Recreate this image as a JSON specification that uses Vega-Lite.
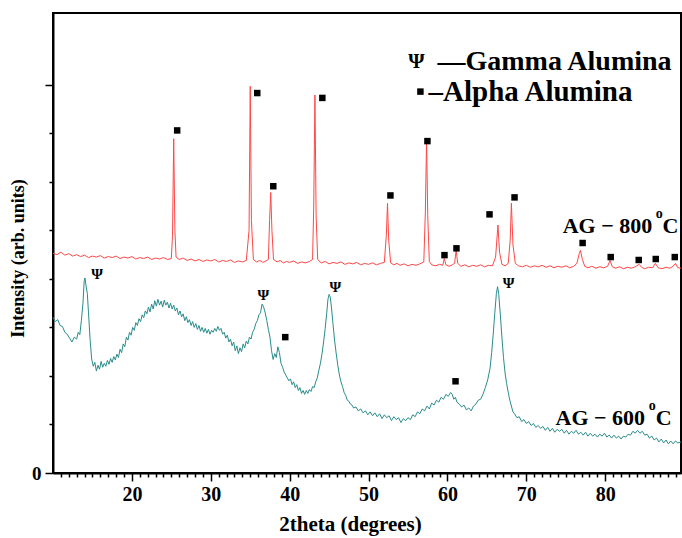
{
  "$schema": "https://vega.github.io/schema/vega-lite/v6.json",
  "width": 628,
  "height": 460,
  "autosize": {"type": "none"},
  "padding": {"left": 53, "top": 13, "right": 1, "bottom": 65},
  "background": "white",
  "config": {
    "view": {"stroke": "black", "strokeWidth": 2},
    "font": "Liberation Serif",
    "axis": {"grid": false, "tickColor": "black", "tickWidth": 1.5, "domainColor": "black", "domainWidth": 2, "labelColor": "black", "labelFont": "Liberation Serif", "labelFontSize": 18, "labelFontWeight": "bold", "titleColor": "black", "titleFont": "Liberation Serif", "titleFontSize": 18, "titleFontWeight": "bold", "labelOverlap": false, "labelFlush": false, "labelBound": false}
  },
  "resolve": {"axis": {"x": "independent", "y": "independent"}},
  "datasets": {
    "red": [
      {"x":10.0,"y":4.53},{"x":10.5,"y":4.50},{"x":11.0,"y":4.55},{"x":11.5,"y":4.49},{"x":12.0,"y":4.52},{"x":12.5,"y":4.47},{"x":13.0,"y":4.50},{"x":13.5,"y":4.46},{"x":14.0,"y":4.49},{"x":14.5,"y":4.44},{"x":15.0,"y":4.47},{"x":15.5,"y":4.45},{"x":16.0,"y":4.48},{"x":16.5,"y":4.43},{"x":17.0,"y":4.46},{"x":17.5,"y":4.44},{"x":18.0,"y":4.47},{"x":18.5,"y":4.42},{"x":19.0,"y":4.45},{"x":19.5,"y":4.43},{"x":20.0,"y":4.46},{"x":20.5,"y":4.41},{"x":21.0,"y":4.44},{"x":21.5,"y":4.42},{"x":22.0,"y":4.45},{"x":22.5,"y":4.40},{"x":23.0,"y":4.43},{"x":23.5,"y":4.41},{"x":24.0,"y":4.44},{"x":24.5,"y":4.40},{"x":25.0,"y":4.42},{"x":25.15,"y":4.9},{"x":25.3,"y":6.89},{"x":25.45,"y":5.0},{"x":25.6,"y":4.45},{"x":26.0,"y":4.40},{"x":26.5,"y":4.43},{"x":27.0,"y":4.38},{"x":27.5,"y":4.41},{"x":28.0,"y":4.37},{"x":28.5,"y":4.40},{"x":29.0,"y":4.36},{"x":29.5,"y":4.39},{"x":30.0,"y":4.37},{"x":30.5,"y":4.40},{"x":31.0,"y":4.35},{"x":31.5,"y":4.38},{"x":32.0,"y":4.36},{"x":32.5,"y":4.39},{"x":33.0,"y":4.34},{"x":33.5,"y":4.37},{"x":34.0,"y":4.35},{"x":34.5,"y":4.38},{"x":34.85,"y":5.0},{"x":35.0,"y":7.97},{"x":35.15,"y":5.2},{"x":35.4,"y":4.40},{"x":35.8,"y":4.35},{"x":36.2,"y":4.38},{"x":36.6,"y":4.34},{"x":37.0,"y":4.37},{"x":37.3,"y":4.40},{"x":37.45,"y":5.2},{"x":37.6,"y":5.78},{"x":37.75,"y":5.0},{"x":37.95,"y":4.40},{"x":38.4,"y":4.35},{"x":38.8,"y":4.38},{"x":39.2,"y":4.33},{"x":39.6,"y":4.36},{"x":40.0,"y":4.34},{"x":40.5,"y":4.37},{"x":41.0,"y":4.32},{"x":41.5,"y":4.35},{"x":42.0,"y":4.33},{"x":42.5,"y":4.36},{"x":42.9,"y":4.40},{"x":43.05,"y":5.5},{"x":43.2,"y":7.79},{"x":43.35,"y":5.3},{"x":43.55,"y":4.40},{"x":44.0,"y":4.33},{"x":44.5,"y":4.36},{"x":45.0,"y":4.31},{"x":45.5,"y":4.34},{"x":46.0,"y":4.32},{"x":46.5,"y":4.35},{"x":47.0,"y":4.30},{"x":47.5,"y":4.33},{"x":48.0,"y":4.31},{"x":48.5,"y":4.34},{"x":49.0,"y":4.29},{"x":49.5,"y":4.32},{"x":50.0,"y":4.30},{"x":50.5,"y":4.33},{"x":51.0,"y":4.29},{"x":51.5,"y":4.32},{"x":52.0,"y":4.34},{"x":52.25,"y":4.9},{"x":52.4,"y":5.56},{"x":52.55,"y":4.8},{"x":52.8,"y":4.33},{"x":53.2,"y":4.29},{"x":53.6,"y":4.32},{"x":54.0,"y":4.28},{"x":54.5,"y":4.31},{"x":55.0,"y":4.27},{"x":55.5,"y":4.30},{"x":56.0,"y":4.28},{"x":56.5,"y":4.31},{"x":57.0,"y":4.35},{"x":57.2,"y":5.4},{"x":57.35,"y":6.86},{"x":57.5,"y":5.3},{"x":57.7,"y":4.36},{"x":58.0,"y":4.29},{"x":58.5,"y":4.27},{"x":59.0,"y":4.30},{"x":59.4,"y":4.28},{"x":59.6,"y":4.42},{"x":59.8,"y":4.29},{"x":60.2,"y":4.26},{"x":60.6,"y":4.29},{"x":60.9,"y":4.32},{"x":61.1,"y":4.59},{"x":61.3,"y":4.32},{"x":61.7,"y":4.26},{"x":62.2,"y":4.29},{"x":62.7,"y":4.25},{"x":63.2,"y":4.28},{"x":63.7,"y":4.26},{"x":64.2,"y":4.29},{"x":64.7,"y":4.25},{"x":65.2,"y":4.28},{"x":65.7,"y":4.27},{"x":66.1,"y":4.45},{"x":66.4,"y":5.11},{"x":66.6,"y":4.55},{"x":66.9,"y":4.30},{"x":67.3,"y":4.27},{"x":67.7,"y":4.32},{"x":67.95,"y":4.8},{"x":68.1,"y":5.56},{"x":68.3,"y":4.7},{"x":68.6,"y":4.32},{"x":69.0,"y":4.27},{"x":69.5,"y":4.25},{"x":70.0,"y":4.28},{"x":70.5,"y":4.24},{"x":71.0,"y":4.27},{"x":71.5,"y":4.25},{"x":72.0,"y":4.28},{"x":72.5,"y":4.24},{"x":73.0,"y":4.27},{"x":73.5,"y":4.23},{"x":74.0,"y":4.26},{"x":74.5,"y":4.24},{"x":75.0,"y":4.27},{"x":75.5,"y":4.23},{"x":76.0,"y":4.26},{"x":76.4,"y":4.32},{"x":76.7,"y":4.52},{"x":76.85,"y":4.59},{"x":77.1,"y":4.40},{"x":77.4,"y":4.26},{"x":77.8,"y":4.23},{"x":78.3,"y":4.26},{"x":78.8,"y":4.22},{"x":79.3,"y":4.25},{"x":79.8,"y":4.23},{"x":80.3,"y":4.26},{"x":80.6,"y":4.38},{"x":80.9,"y":4.25},{"x":81.3,"y":4.22},{"x":81.8,"y":4.25},{"x":82.3,"y":4.21},{"x":82.8,"y":4.24},{"x":83.3,"y":4.22},{"x":83.8,"y":4.25},{"x":84.3,"y":4.30},{"x":84.6,"y":4.24},{"x":85.0,"y":4.21},{"x":85.5,"y":4.24},{"x":86.0,"y":4.23},{"x":86.35,"y":4.32},{"x":86.7,"y":4.23},{"x":87.2,"y":4.21},{"x":87.7,"y":4.24},{"x":88.2,"y":4.22},{"x":88.6,"y":4.26},{"x":88.9,"y":4.32},{"x":89.2,"y":4.23},{"x":89.6,"y":4.22}
    ],
    "teal": [
      {"x":10.0,"y":3.21},{"x":10.3,"y":3.12},{"x":10.6,"y":3.16},{"x":10.9,"y":3.04},{"x":11.2,"y":3.02},{"x":11.5,"y":2.90},{"x":11.8,"y":2.86},{"x":12.1,"y":2.78},{"x":12.4,"y":2.70},{"x":12.7,"y":2.80},{"x":13.0,"y":2.76},{"x":13.2,"y":2.90},{"x":13.4,"y":2.85},{"x":13.6,"y":3.15},{"x":13.8,"y":3.50},{"x":13.95,"y":3.95},{"x":14.05,"y":4.02},{"x":14.2,"y":3.85},{"x":14.35,"y":3.70},{"x":14.5,"y":3.30},{"x":14.7,"y":2.75},{"x":14.9,"y":2.35},{"x":15.1,"y":2.20},{"x":15.3,"y":2.28},{"x":15.5,"y":2.10},{"x":15.7,"y":2.22},{"x":15.9,"y":2.14},{"x":16.1,"y":2.30},{"x":16.3,"y":2.18},{"x":16.5,"y":2.26},{"x":16.7,"y":2.20},{"x":16.9,"y":2.32},{"x":17.1,"y":2.24},{"x":17.3,"y":2.36},{"x":17.5,"y":2.28},{"x":17.7,"y":2.40},{"x":17.9,"y":2.33},{"x":18.1,"y":2.45},{"x":18.3,"y":2.38},{"x":18.5,"y":2.55},{"x":18.7,"y":2.48},{"x":18.9,"y":2.66},{"x":19.1,"y":2.60},{"x":19.3,"y":2.80},{"x":19.5,"y":2.74},{"x":19.7,"y":2.90},{"x":19.9,"y":2.84},{"x":20.1,"y":3.00},{"x":20.3,"y":2.94},{"x":20.5,"y":3.10},{"x":20.7,"y":3.04},{"x":20.9,"y":3.18},{"x":21.1,"y":3.12},{"x":21.3,"y":3.26},{"x":21.5,"y":3.20},{"x":21.7,"y":3.34},{"x":21.9,"y":3.28},{"x":22.1,"y":3.42},{"x":22.3,"y":3.32},{"x":22.5,"y":3.48},{"x":22.7,"y":3.38},{"x":22.9,"y":3.55},{"x":23.1,"y":3.44},{"x":23.3,"y":3.58},{"x":23.5,"y":3.46},{"x":23.7,"y":3.54},{"x":23.9,"y":3.42},{"x":24.1,"y":3.56},{"x":24.3,"y":3.46},{"x":24.5,"y":3.52},{"x":24.7,"y":3.40},{"x":24.9,"y":3.50},{"x":25.1,"y":3.38},{"x":25.3,"y":3.46},{"x":25.5,"y":3.34},{"x":25.7,"y":3.40},{"x":25.9,"y":3.26},{"x":26.1,"y":3.34},{"x":26.3,"y":3.22},{"x":26.5,"y":3.28},{"x":26.7,"y":3.14},{"x":26.9,"y":3.22},{"x":27.1,"y":3.10},{"x":27.3,"y":3.16},{"x":27.5,"y":3.04},{"x":27.7,"y":3.12},{"x":27.9,"y":3.00},{"x":28.1,"y":3.08},{"x":28.3,"y":2.96},{"x":28.5,"y":3.04},{"x":28.7,"y":2.92},{"x":28.9,"y":3.00},{"x":29.1,"y":2.90},{"x":29.3,"y":2.98},{"x":29.5,"y":2.88},{"x":29.7,"y":2.96},{"x":29.9,"y":2.86},{"x":30.1,"y":2.94},{"x":30.3,"y":2.90},{"x":30.5,"y":2.98},{"x":30.7,"y":2.92},{"x":30.9,"y":3.02},{"x":31.1,"y":2.94},{"x":31.3,"y":2.98},{"x":31.5,"y":2.86},{"x":31.7,"y":2.90},{"x":31.9,"y":2.78},{"x":32.1,"y":2.84},{"x":32.3,"y":2.70},{"x":32.5,"y":2.76},{"x":32.7,"y":2.62},{"x":32.9,"y":2.70},{"x":33.1,"y":2.52},{"x":33.3,"y":2.62},{"x":33.5,"y":2.46},{"x":33.7,"y":2.58},{"x":33.9,"y":2.50},{"x":34.1,"y":2.66},{"x":34.3,"y":2.58},{"x":34.5,"y":2.72},{"x":34.7,"y":2.66},{"x":34.9,"y":2.80},{"x":35.1,"y":2.76},{"x":35.3,"y":2.90},{"x":35.5,"y":2.96},{"x":35.7,"y":3.08},{"x":35.9,"y":3.14},{"x":36.1,"y":3.26},{"x":36.3,"y":3.30},{"x":36.5,"y":3.48},{"x":36.7,"y":3.42},{"x":36.9,"y":3.30},{"x":37.1,"y":3.14},{"x":37.3,"y":2.96},{"x":37.5,"y":2.80},{"x":37.7,"y":2.52},{"x":37.9,"y":2.34},{"x":38.1,"y":2.46},{"x":38.3,"y":2.38},{"x":38.5,"y":2.60},{"x":38.7,"y":2.48},{"x":38.9,"y":2.26},{"x":39.1,"y":2.18},{"x":39.3,"y":2.08},{"x":39.5,"y":2.02},{"x":39.7,"y":1.96},{"x":39.9,"y":1.90},{"x":40.1,"y":1.94},{"x":40.3,"y":1.82},{"x":40.5,"y":1.88},{"x":40.7,"y":1.76},{"x":40.9,"y":1.82},{"x":41.1,"y":1.70},{"x":41.3,"y":1.76},{"x":41.5,"y":1.64},{"x":41.7,"y":1.70},{"x":41.9,"y":1.62},{"x":42.1,"y":1.70},{"x":42.3,"y":1.64},{"x":42.5,"y":1.72},{"x":42.7,"y":1.68},{"x":42.9,"y":1.78},{"x":43.1,"y":1.76},{"x":43.3,"y":1.88},{"x":43.5,"y":1.96},{"x":43.7,"y":2.12},{"x":43.9,"y":2.26},{"x":44.1,"y":2.46},{"x":44.3,"y":2.70},{"x":44.5,"y":2.98},{"x":44.7,"y":3.30},{"x":44.85,"y":3.58},{"x":45.0,"y":3.68},{"x":45.15,"y":3.62},{"x":45.3,"y":3.40},{"x":45.5,"y":3.06},{"x":45.7,"y":2.72},{"x":45.9,"y":2.46},{"x":46.1,"y":2.22},{"x":46.3,"y":2.02},{"x":46.5,"y":1.88},{"x":46.7,"y":1.78},{"x":46.9,"y":1.66},{"x":47.1,"y":1.60},{"x":47.3,"y":1.50},{"x":47.5,"y":1.48},{"x":47.7,"y":1.42},{"x":47.9,"y":1.40},{"x":48.1,"y":1.34},{"x":48.4,"y":1.36},{"x":48.7,"y":1.28},{"x":49.0,"y":1.32},{"x":49.3,"y":1.24},{"x":49.6,"y":1.28},{"x":49.9,"y":1.20},{"x":50.2,"y":1.26},{"x":50.5,"y":1.18},{"x":50.8,"y":1.24},{"x":51.1,"y":1.16},{"x":51.4,"y":1.22},{"x":51.7,"y":1.12},{"x":52.0,"y":1.20},{"x":52.3,"y":1.14},{"x":52.6,"y":1.18},{"x":52.9,"y":1.08},{"x":53.2,"y":1.16},{"x":53.5,"y":1.10},{"x":53.8,"y":1.14},{"x":54.1,"y":1.04},{"x":54.4,"y":1.12},{"x":54.7,"y":1.08},{"x":55.0,"y":1.14},{"x":55.3,"y":1.10},{"x":55.6,"y":1.20},{"x":55.9,"y":1.16},{"x":56.2,"y":1.26},{"x":56.5,"y":1.22},{"x":56.8,"y":1.32},{"x":57.1,"y":1.28},{"x":57.4,"y":1.38},{"x":57.7,"y":1.32},{"x":58.0,"y":1.44},{"x":58.3,"y":1.40},{"x":58.6,"y":1.50},{"x":58.9,"y":1.46},{"x":59.2,"y":1.56},{"x":59.5,"y":1.52},{"x":59.8,"y":1.62},{"x":60.1,"y":1.58},{"x":60.4,"y":1.66},{"x":60.6,"y":1.62},{"x":60.8,"y":1.52},{"x":61.0,"y":1.56},{"x":61.2,"y":1.46},{"x":61.5,"y":1.42},{"x":61.8,"y":1.36},{"x":62.1,"y":1.40},{"x":62.4,"y":1.30},{"x":62.7,"y":1.34},{"x":63.0,"y":1.28},{"x":63.3,"y":1.38},{"x":63.6,"y":1.42},{"x":63.9,"y":1.50},{"x":64.2,"y":1.52},{"x":64.5,"y":1.62},{"x":64.8,"y":1.76},{"x":65.1,"y":1.92},{"x":65.4,"y":2.16},{"x":65.6,"y":2.48},{"x":65.8,"y":2.86},{"x":66.0,"y":3.30},{"x":66.2,"y":3.70},{"x":66.35,"y":3.84},{"x":66.5,"y":3.68},{"x":66.7,"y":3.26},{"x":66.9,"y":2.80},{"x":67.1,"y":2.38},{"x":67.3,"y":2.06},{"x":67.5,"y":1.84},{"x":67.7,"y":1.66},{"x":67.9,"y":1.50},{"x":68.1,"y":1.38},{"x":68.3,"y":1.26},{"x":68.5,"y":1.22},{"x":68.8,"y":1.14},{"x":69.1,"y":1.16},{"x":69.4,"y":1.06},{"x":69.7,"y":1.10},{"x":70.0,"y":1.02},{"x":70.3,"y":1.06},{"x":70.6,"y":0.98},{"x":70.9,"y":1.02},{"x":71.2,"y":0.94},{"x":71.5,"y":0.98},{"x":71.8,"y":0.92},{"x":72.1,"y":0.96},{"x":72.4,"y":0.88},{"x":72.7,"y":0.94},{"x":73.0,"y":0.86},{"x":73.3,"y":0.92},{"x":73.6,"y":0.84},{"x":73.9,"y":0.90},{"x":74.2,"y":0.86},{"x":74.5,"y":0.90},{"x":74.8,"y":0.82},{"x":75.1,"y":0.88},{"x":75.4,"y":0.80},{"x":75.7,"y":0.86},{"x":76.0,"y":0.82},{"x":76.3,"y":0.88},{"x":76.6,"y":0.80},{"x":76.9,"y":0.84},{"x":77.2,"y":0.78},{"x":77.5,"y":0.84},{"x":77.8,"y":0.76},{"x":78.1,"y":0.82},{"x":78.4,"y":0.76},{"x":78.7,"y":0.80},{"x":79.0,"y":0.74},{"x":79.3,"y":0.80},{"x":79.6,"y":0.76},{"x":79.9,"y":0.82},{"x":80.2,"y":0.74},{"x":80.5,"y":0.78},{"x":80.8,"y":0.72},{"x":81.1,"y":0.78},{"x":81.4,"y":0.72},{"x":81.7,"y":0.76},{"x":82.0,"y":0.70},{"x":82.3,"y":0.76},{"x":82.6,"y":0.74},{"x":82.9,"y":0.80},{"x":83.2,"y":0.78},{"x":83.5,"y":0.86},{"x":83.8,"y":0.82},{"x":84.1,"y":0.88},{"x":84.4,"y":0.82},{"x":84.7,"y":0.86},{"x":85.0,"y":0.78},{"x":85.3,"y":0.80},{"x":85.6,"y":0.72},{"x":85.9,"y":0.76},{"x":86.2,"y":0.68},{"x":86.5,"y":0.72},{"x":86.8,"y":0.64},{"x":87.1,"y":0.70},{"x":87.4,"y":0.62},{"x":87.7,"y":0.68},{"x":88.0,"y":0.60},{"x":88.3,"y":0.66},{"x":88.6,"y":0.60},{"x":88.9,"y":0.66},{"x":89.2,"y":0.62},{"x":89.6,"y":0.64}
    ],
    "squares": [
      {"x":25.74,"y":7.06},{"x":35.89,"y":7.83},{"x":37.92,"y":5.91},{"x":44.14,"y":7.73},{"x":52.77,"y":5.72},{"x":57.46,"y":6.84},{"x":59.62,"y":4.49},{"x":61.14,"y":4.63},{"x":65.33,"y":5.33},{"x":68.5,"y":5.68},{"x":77.13,"y":4.74},{"x":80.69,"y":4.45},{"x":84.24,"y":4.39},{"x":86.4,"y":4.41},{"x":88.81,"y":4.45},
      {"x":39.44,"y":2.80},{"x":61.02,"y":1.89},
      {"x":56.57,"y":7.86}
    ],
    "psi": [
      {"x":15.58,"y":4.10,"t":"Ψ"},{"x":36.65,"y":3.67,"t":"Ψ"},{"x":45.79,"y":3.84,"t":"Ψ"},{"x":67.74,"y":3.91,"t":"Ψ"}
    ],
    "legendPsi": [
      {"x":56.07,"y":8.47,"t":"Ψ"}
    ],
    "legendGamma": [
      {"x":58.73,"y":8.47,"t":"—Gamma Alumina"}
    ],
    "legendAlpha": [
      {"x":57.6,"y":7.86,"t":"–Alpha Alumina"}
    ],
    "sampleText": [
      {"x":74.6,"y":5.10,"t":"AG − 800"},
      {"x":87.25,"y":5.10,"t":"C"},
      {"x":73.7,"y":1.14,"t":"AG − 600"},
      {"x":86.4,"y":1.14,"t":"C"}
    ],
    "supText": [
      {"x":86.85,"y":5.34,"t":"o"},
      {"x":85.95,"y":1.38,"t":"o"}
    ]
  },
  "layer": [
    {
      "data": {"name": "red"},
      "mark": {"type": "line", "color": "#ff4747", "strokeWidth": 1},
      "encoding": {
        "x": {
          "field": "x", "type": "quantitative",
          "scale": {"domain": [10, 89.6], "nice": false, "zero": false},
          "axis": {
            "orient": "bottom",
            "title": null,
            "values": [11,12,13,14,15,16,17,18,19,21,22,23,24,25,26,27,28,29,31,32,33,34,35,36,37,38,39,41,42,43,44,45,46,47,48,49,51,52,53,54,55,56,57,58,59,61,62,63,64,65,66,67,68,69,71,72,73,74,75,76,77,78,79,81,82,83,84,85,86,87,88,89],
            "labels": false,
            "tickSize": 4,
            "domain": true
          }
        },
        "y": {
          "field": "y", "type": "quantitative",
          "scale": {"domain": [0, 9.48], "nice": false, "zero": false},
          "axis": {
            "orient": "left",
            "title": null,
            "values": [1,2,3,4,5,6,7],
            "labels": false,
            "tickSize": 4,
            "domain": true
          }
        }
      }
    },
    {
      "data": {"name": "teal"},
      "mark": {"type": "line", "color": "#2a8c8c", "strokeWidth": 1},
      "encoding": {
        "x": {
          "field": "x", "type": "quantitative",
          "axis": {
            "orient": "bottom",
            "title": "2theta (degrees)",
            "values": [20,30,40,50,60,70,80],
            "tickSize": 8,
            "labelFontSize": 20,
            "labelPadding": 3,
            "titleFontSize": 21,
            "titlePadding": 9,
            "titleX": 297,
            "domain": false
          }
        },
        "y": {
          "field": "y", "type": "quantitative",
          "axis": {
            "orient": "left",
            "title": "Intensity (arb. units)",
            "values": [0, 8],
            "labelExpr": "datum.value === 0 ? '0' : ''",
            "tickSize": 8,
            "labelFontSize": 19,
            "labelPadding": 4,
            "titlePadding": 4,
            "titleY": 245,
            "domain": false
          }
        }
      }
    },
    {
      "data": {"name": "squares"},
      "mark": {"type": "point", "shape": "square", "filled": true, "color": "black", "size": 42, "opacity": 1},
      "encoding": {
        "x": {"field": "x", "type": "quantitative", "axis": null},
        "y": {"field": "y", "type": "quantitative", "axis": null}
      }
    },
    {
      "data": {"name": "psi"},
      "mark": {"type": "text", "font": "Liberation Serif", "fontSize": 15, "fontWeight": "bold", "color": "black", "baseline": "middle", "align": "center"},
      "encoding": {
        "x": {"field": "x", "type": "quantitative", "axis": null},
        "y": {"field": "y", "type": "quantitative", "axis": null},
        "text": {"field": "t"}
      }
    },
    {
      "data": {"name": "legendPsi"},
      "mark": {"type": "text", "font": "Liberation Serif", "fontSize": 21, "fontWeight": "bold", "color": "black", "baseline": "middle", "align": "center"},
      "encoding": {
        "x": {"field": "x", "type": "quantitative", "axis": null},
        "y": {"field": "y", "type": "quantitative", "axis": null},
        "text": {"field": "t"}
      }
    },
    {
      "data": {"name": "legendGamma"},
      "mark": {"type": "text", "font": "Liberation Serif", "fontSize": 28, "fontWeight": "bold", "color": "black", "baseline": "middle", "align": "left"},
      "encoding": {
        "x": {"field": "x", "type": "quantitative", "axis": null},
        "y": {"field": "y", "type": "quantitative", "axis": null},
        "text": {"field": "t"}
      }
    },
    {
      "data": {"name": "legendAlpha"},
      "mark": {"type": "text", "font": "Liberation Serif", "fontSize": 29, "fontWeight": "bold", "color": "black", "baseline": "middle", "align": "left"},
      "encoding": {
        "x": {"field": "x", "type": "quantitative", "axis": null},
        "y": {"field": "y", "type": "quantitative", "axis": null},
        "text": {"field": "t"}
      }
    },
    {
      "data": {"name": "sampleText"},
      "mark": {"type": "text", "font": "Liberation Serif", "fontSize": 22, "fontWeight": "bold", "color": "black", "baseline": "middle", "align": "left"},
      "encoding": {
        "x": {"field": "x", "type": "quantitative", "axis": null},
        "y": {"field": "y", "type": "quantitative", "axis": null},
        "text": {"field": "t"}
      }
    },
    {
      "data": {"name": "supText"},
      "mark": {"type": "text", "font": "Liberation Serif", "fontSize": 14, "fontWeight": "bold", "color": "black", "baseline": "middle", "align": "center"},
      "encoding": {
        "x": {"field": "x", "type": "quantitative", "axis": null},
        "y": {"field": "y", "type": "quantitative", "axis": null},
        "text": {"field": "t"}
      }
    }
  ]
}
